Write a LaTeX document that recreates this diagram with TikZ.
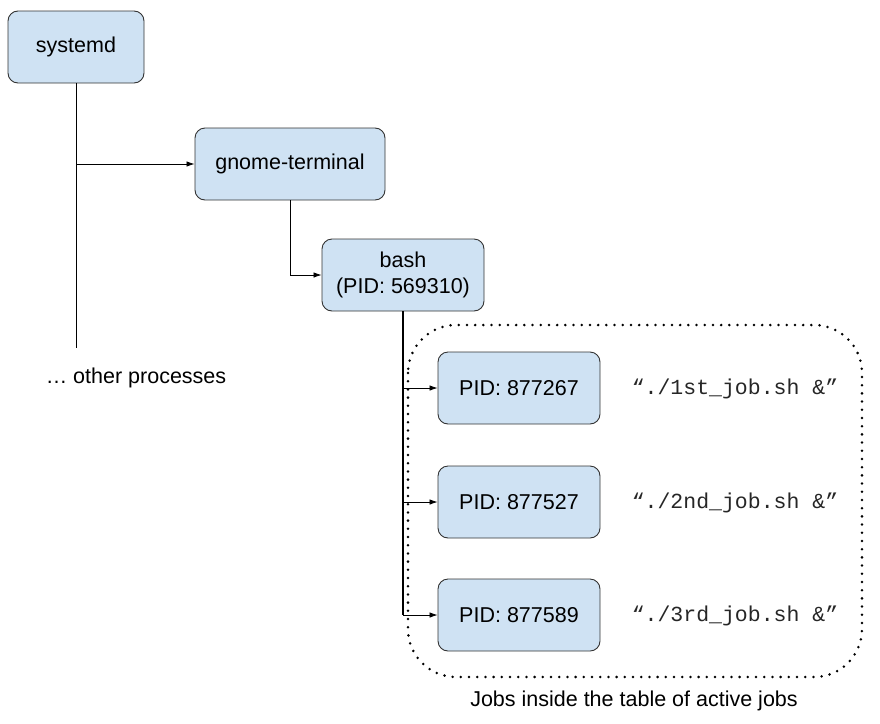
\documentclass[tikz,border=0pt]{standalone}
\usepackage{fontspec}
\setmainfont{Liberation Sans}
\setmonofont{Liberation Mono}
\usetikzlibrary{arrows.meta}
\definecolor{boxfill}{HTML}{CFE2F3}
\definecolor{boxdraw}{HTML}{333333}
\begin{document}
\begin{tikzpicture}[x=1pt,y=-1pt,
  proc/.style={draw=boxdraw, fill=boxfill, line width=0.9pt, rounded corners=10pt,
    minimum height=72pt, inner sep=0pt, align=center,
    font=\fontsize{21.5}{26}\selectfont},
  lbl/.style={inner sep=0pt, font=\fontsize{21.5}{26}\selectfont},
  cmd/.style={inner sep=0pt, text=black!85, font=\fontsize{21.5}{26}\ttfamily},
  conn/.style={line width=0.8pt, black},
  arr/.style={conn, -{Latex[length=8pt,width=5.5pt]}}]
\useasboundingbox (0,0) rectangle (880,723);

\node[proc, minimum width=136pt] (systemd) at (76,47) {systemd};
\node[proc, minimum width=190pt] (gnome) at (290,164) {gnome-terminal};
\node[proc, minimum width=162pt] (bash) at (403,275) {bash\\(PID: 569310)};
\node[proc, minimum width=162pt] (j1) at (519,388) {PID: 877267};
\node[proc, minimum width=162pt] (j2) at (519,502) {PID: 877527};
\node[proc, minimum width=162pt] (j3) at (519,615) {PID: 877589};

\node[cmd] (c1) at (735,389) {“./1st\_job.sh \&”};
\node[cmd] (c2) at (735,503) {“./2nd\_job.sh \&”};
\node[cmd] (c3) at (735,616) {“./3rd\_job.sh \&”};

\node[lbl] (other) at (136,378) {… other processes};
\node[lbl] (jobslbl) at (634,701) {Jobs inside the table of active jobs};

\draw[line width=2.8pt, line cap=round, dash pattern=on 0pt off 8.2pt, rounded corners=48pt]
  (408,325) rectangle (862,677);
\coordinate (sysend) at (76,348);

\draw[conn] (systemd.south) -- (sysend);
\draw[arr] (systemd.south |- gnome.west) -- (gnome.west);
\draw[arr] (gnome.south) |- (bash.west);
\draw[conn, line width=1.4pt] (bash.south) -- (bash.south |- j3.west);
\draw[arr] (bash.south |- j1.west) -- (j1.west);
\draw[arr] (bash.south |- j2.west) -- (j2.west);
\draw[arr] (bash.south |- j3.west) -- (j3.west);
\end{tikzpicture}
\end{document}
